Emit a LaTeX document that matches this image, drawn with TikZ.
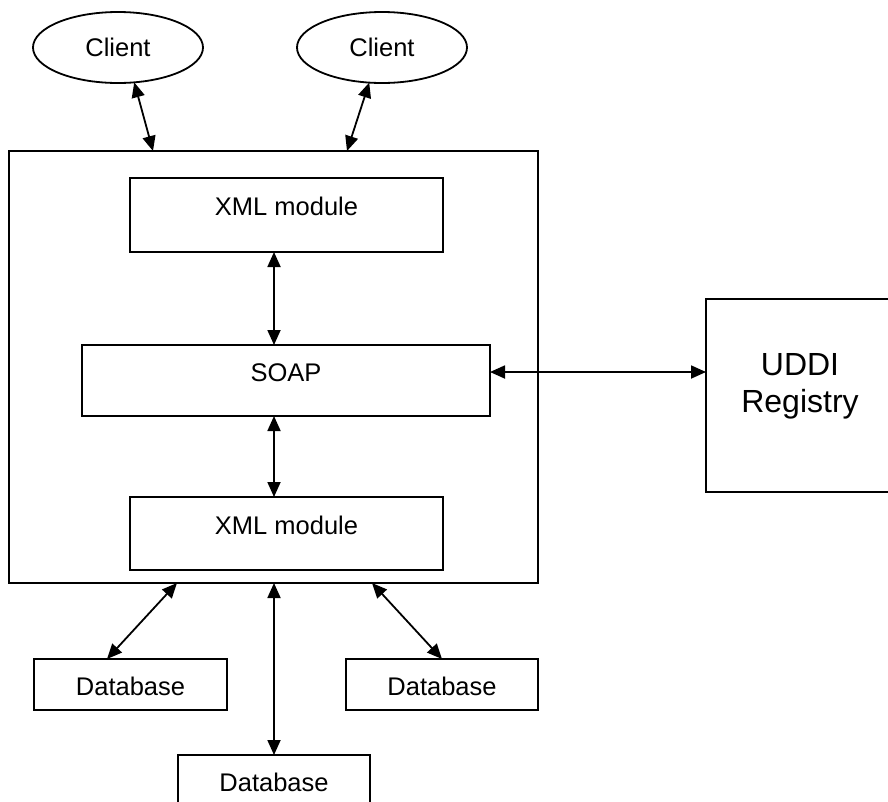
\documentclass[tikz,border=0pt]{standalone}
\usepackage{fontspec}
\setmainfont{Liberation Sans}
\usetikzlibrary{shapes.geometric,arrows.meta,calc}
\begin{document}
\begin{tikzpicture}[x=1pt,y=-1pt,
  every node/.style={inner sep=0pt, outer sep=0pt},
  boxa/.style={draw, line width=1.8pt, rectangle, font=\fontsize{25.5}{30}\selectfont},
  cli/.style={draw, line width=1.8pt, ellipse, minimum width=170pt, minimum height=71pt, font=\fontsize{25.5}{30}\selectfont},
  biarrow/.style={line width=1.8pt, {Triangle[length=15pt,width=13pt]}-{Triangle[length=15pt,width=13pt]}}]
\useasboundingbox (0,0) rectangle (888,801);
\clip (0,0) rectangle (888,801);
% clients
\node[cli] (c1) at (118,47.5) {Client};
\node[cli] (c2) at (382,47.5) {Client};
% server box
\node[boxa, minimum width=529pt, minimum height=432pt, anchor=north west] (big) at (9,151) {};
\node[boxa, minimum width=313pt, text height=37pt, text depth=37pt, anchor=north] (xmlt) at (286.5,178) {XML module};
\node[boxa, minimum width=408pt, text height=36pt, text depth=35pt, anchor=north] (soap) at (286,345) {SOAP};
\node[boxa, minimum width=313pt, text height=37pt, text depth=36pt, anchor=north] (xmlb) at (286.5,497) {XML module};
% UDDI
\node[boxa, minimum width=188pt, minimum height=193pt, anchor=north west] (uddi) at (706,299) {};
\node[font=\fontsize{32}{37}\selectfont, align=center] (uddit) at (800,386) {UDDI\\Registry};
% databases
\node[boxa, minimum width=193pt, text height=36pt, text depth=15pt, anchor=north west] (db1) at (34,659) {Database};
\node[boxa, minimum width=192pt, text height=36pt, text depth=15pt, anchor=north west] (db2) at (346,659) {Database};
\node[boxa, minimum width=192pt, text height=36pt, text depth=25pt, anchor=north west] (db3) at (178,755) {Database};
% connectors
\coordinate (ax) at (274,0);
\coordinate (uy) at (0,372);
\draw[biarrow] (c1.-65) -- ($(big.north west)+(144,0)$);
\draw[biarrow] (c2.-110) -- ($(big.north west)+(338,0)$);
\draw[biarrow] (xmlt.south -| ax) -- (soap.north -| ax);
\draw[biarrow] (soap.south -| ax) -- (xmlb.north -| ax);
\draw[biarrow] (soap.east |- uy) -- (uddi.west |- uy);
\draw[biarrow] ($(big.south west)+(168,0)$) -- ($(db1.north)+(-23.5,0)$);
\draw[biarrow] (big.south -| db3.north) -- (db3.north);
\draw[biarrow] ($(big.south west)+(363,0)$) -- (db2.north);
\end{tikzpicture}
\end{document}
